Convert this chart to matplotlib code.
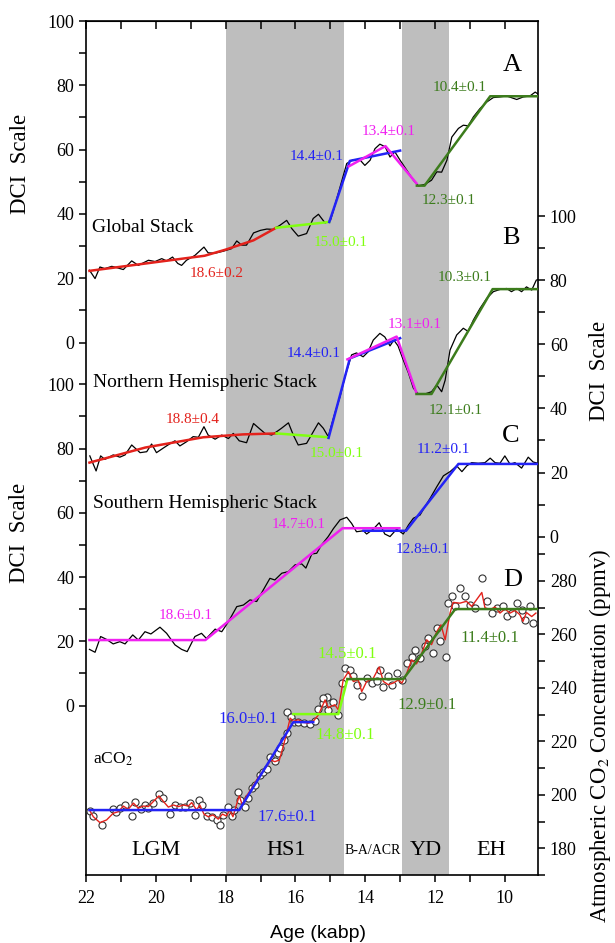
import matplotlib
matplotlib.use('Agg')
import matplotlib.pyplot as plt
from matplotlib.ticker import FixedLocator, NullFormatter

plt.rcParams['font.family'] = ['Liberation Serif', 'DejaVu Serif']
plt.rcParams['mathtext.fontset'] = 'stix'

# ---- data ------------------------------------------------------------------
# A: global stack
age_a = [21.9, 21.74, 21.6, 21.46, 21.26, 21.15, 20.93, 20.69, 20.5, 20.21, 20.02,
         19.83, 19.69, 19.52, 19.37, 19.26, 19.12, 18.88, 18.62, 18.5, 18.3, 18.07,
         17.83, 17.68, 17.54, 17.4, 17.2, 17.0, 16.82, 16.63, 16.44, 16.25, 16.1,
         15.92, 15.68, 15.49, 15.34, 15.15, 15.0, 14.91, 14.72, 14.53, 14.34, 14.15,
         14.01, 13.86, 13.72, 13.58, 13.43, 13.29, 13.15, 13.0, 12.81, 12.62, 12.48,
         12.29, 12.1, 11.95, 11.81, 11.66, 11.52, 11.33, 11.19, 11.05, 10.9, 10.71,
         10.52, 10.33, 10.14, 9.95, 9.82, 9.66, 9.47, 9.28, 9.13, 9.05]
dci_a = [22.5, 19.9, 23.5, 23.0, 23.7, 23.4, 22.7, 25.4, 24.0, 25.6, 25.2,
         26.1, 25.4, 26.6, 24.6, 24.0, 25.6, 27.1, 29.7, 27.9, 27.8, 28.4,
         29.2, 31.6, 30.3, 30.3, 34.1, 34.9, 35.3, 35.2, 36.5, 38.0, 35.4,
         33.1, 33.9, 38.6, 39.9, 37.2, 37.9, 41.1, 48.4, 55.7, 56.9, 56.8,
         55.1, 56.7, 60.3, 61.7, 60.9, 57.7, 59.3, 56.7, 53.6, 50.5, 48.7,
         49.2, 50.5, 53.1, 53.0, 56.7, 63.9, 66.6, 67.6, 67.4, 70.2, 72.8,
         74.8, 76.2, 76.4, 76.7, 76.2, 75.6, 76.4, 76.7, 77.9, 77.3]

# B: northern hemispheric stack
age_b = [21.89, 21.71, 21.58, 21.46, 21.22, 21.03, 20.88, 20.69, 20.45, 20.26, 20.12,
         19.98, 19.79, 19.65, 19.45, 19.31, 19.12, 18.93, 18.78, 18.62, 18.5, 18.3,
         18.11, 17.92, 17.78, 17.61, 17.4, 17.2, 17.01, 16.87, 16.68, 16.49, 16.4,
         16.2, 16.06, 15.92, 15.68, 15.49, 15.34, 15.2, 15.06, 14.87, 14.72, 14.58,
         14.39, 14.25, 14.06, 13.92, 13.77, 13.58, 13.44, 13.29, 13.18, 13.06, 12.91,
         12.76, 12.62, 12.48, 12.29, 12.1, 11.95, 11.81, 11.71, 11.57, 11.38, 11.19,
         11.05, 10.9, 10.71, 10.52, 10.33, 10.14, 9.95, 9.81, 9.66, 9.52, 9.38,
         9.23, 9.1, 9.05]
dci_b = [25.2, 20.5, 25.2, 24.1, 25.5, 24.8, 25.5, 28.6, 26.2, 26.5, 28.9,
         26.2, 27.6, 28.6, 29.9, 28.3, 29.6, 31.2, 31.0, 34.3, 31.7, 30.4,
         31.7, 30.6, 32.2, 29.9, 29.3, 35.3, 33.5, 32.2, 31.7, 33.1, 33.8,
         35.5, 31.7, 28.6, 29.1, 32.7, 35.5, 33.8, 31.2, 38.5, 43.7, 49.9,
         56.7, 57.3, 56.1, 57.6, 61.3, 63.4, 62.3, 59.5, 61.3, 59.5, 55.1,
         51.0, 46.3, 44.5, 44.5, 45.2, 47.3, 45.2, 48.8, 58.2, 62.9, 65.0,
         64.0, 67.6, 71.2, 74.3, 76.4, 77.1, 77.4, 76.4, 77.4, 76.4, 77.9,
         76.9, 80.0, 80.2]

# C: southern hemispheric stack
age_c = [21.9, 21.74, 21.58, 21.41, 21.22, 21.03, 20.88, 20.66, 20.5, 20.31, 20.14,
         19.88, 19.69, 19.45, 19.26, 19.1, 18.88, 18.69, 18.55, 18.3, 18.11, 17.92,
         17.68, 17.49, 17.3, 17.11, 16.92, 16.73, 16.59, 16.39, 16.2, 16.01, 15.82,
         15.7, 15.53, 15.39, 15.25, 15.06, 14.91, 14.72, 14.53, 14.39, 14.25, 14.05,
         13.96, 13.77, 13.6, 13.44, 13.29, 13.1, 12.91, 12.76, 12.62, 12.43, 12.29,
         12.14, 11.95, 11.76, 11.57, 11.38, 11.23, 11.09, 10.95, 10.76, 10.57, 10.42,
         10.28, 10.14, 10.0, 9.85, 9.71, 9.52, 9.33, 9.19, 9.05]
dci_c = [17.5, 16.6, 21.5, 20.6, 19.2, 19.9, 19.2, 22.0, 20.4, 23.0, 22.3,
         24.4, 22.5, 18.9, 17.5, 16.8, 21.5, 22.5, 20.9, 23.8, 23.0, 26.1,
         30.8, 31.3, 32.9, 32.4, 36.0, 39.6, 39.1, 41.2, 41.7, 43.8, 44.1,
         42.8, 47.2, 47.4, 50.0, 52.6, 55.1, 57.8, 58.6, 56.7, 54.1, 54.4,
         53.4, 54.9, 56.9, 53.4, 52.6, 54.9, 53.4, 56.2, 58.3, 59.3, 61.9,
         64.5, 68.1, 71.5, 72.8, 74.6, 72.8, 74.6, 75.6, 75.4, 75.6, 77.0,
         75.6, 75.4, 77.7, 75.1, 75.6, 73.9, 77.3, 75.8, 75.4]

# D: atmospheric CO2, smoothed curve (red)
age_co2 = [21.9, 21.79, 21.6, 21.41, 21.22, 21.07, 20.93, 20.79, 20.64, 20.5, 20.36,
           20.21, 20.07, 19.91, 19.78, 19.64, 19.5, 19.35, 19.21, 19.07, 18.97, 18.83,
           18.74, 18.62, 18.5, 18.36, 18.21, 18.09, 17.98, 17.88, 17.79, 17.69, 17.61,
           17.52, 17.41, 17.25, 17.11, 16.97, 16.82, 16.7, 16.59, 16.46, 16.35, 16.25,
           16.15, 16.06, 15.92, 15.77, 15.63, 15.49, 15.34, 15.15, 15.06, 15.0, 14.87,
           14.77, 14.63, 14.48, 14.34, 14.2, 14.1, 13.96, 13.77, 13.6, 13.48, 13.34,
           13.2, 13.05, 12.95, 12.81, 12.67, 12.53, 12.38, 12.24, 12.1, 11.95, 11.83,
           11.71, 11.57, 11.48, 11.29, 11.1, 10.95, 10.81, 10.66, 10.57, 10.42, 10.28,
           10.14, 10.0, 9.85, 9.71, 9.57, 9.48, 9.38, 9.23, 9.11]
ppm_co2 = [194.3, 191.8, 189.6, 190.6, 193.1, 193.7, 195.8, 194.6, 196.9, 195.0, 195.8,
           195.6, 197.5, 199.6, 197.5, 195.4, 196.2, 195.6, 196.2, 195.8, 197.1, 194.3,
           196.2, 192.8, 191.8, 192.5, 190.9, 192.8, 192.1, 194.3, 191.8, 196.2, 199.6,
           196.2, 199.4, 202.5, 205.6, 208.1, 210.8, 213.0, 212.4, 213.0, 218.1, 223.1,
           228.7, 227.5, 228.1, 227.1, 226.8, 227.5, 229.9, 235.5, 232.5, 233.0, 233.7,
           231.8, 243.0, 246.1, 242.4, 243.0, 238.6, 242.4, 243.6, 247.8, 242.4, 241.2,
           241.8, 243.0, 241.8, 245.5, 250.5, 249.0, 253.0, 258.0, 256.2, 261.1, 263.6,
           258.0, 268.0, 272.0, 271.7, 272.4, 270.5, 273.0, 275.7, 270.0, 269.3, 270.3,
           268.0, 269.5, 268.0, 269.0, 267.4, 264.9, 268.2, 266.7, 268.0]

# D: individual CO2 measurements (open circles)
age_pts = [21.89, 21.79, 21.55, 21.22, 21.14, 21.03, 20.88, 20.69, 20.6, 20.42, 20.31,
           20.21, 20.07, 19.9, 19.78, 19.59, 19.45, 19.31, 19.16, 19.02, 18.88, 18.75,
           18.69, 18.54, 18.4, 18.26, 18.16, 18.07, 17.92, 17.83, 17.76, 17.64, 17.59,
           17.44, 17.35, 17.25, 17.16, 17.01, 16.94, 16.82, 16.73, 16.59, 16.49, 16.44,
           16.33, 16.25, 16.23, 16.14, 16.04, 15.92, 15.75, 15.58, 15.44, 15.34, 15.22,
           15.09, 15.2, 15.06, 14.91, 14.77, 14.67, 14.58, 14.44, 14.34, 14.24, 14.1,
           13.96, 13.8, 13.67, 13.58, 13.48, 13.34, 13.24, 13.1, 12.95, 12.81, 12.67,
           12.57, 12.43, 12.29, 12.19, 12.05, 11.95, 11.86, 11.69, 11.62, 11.52, 11.43,
           11.28, 11.14, 10.99, 10.85, 10.66, 10.52, 10.38, 10.23, 10.06, 9.95, 9.8,
           9.66, 9.52, 9.42, 9.28, 9.2]
ppm_pts = [194.1, 192.1, 188.7, 194.6, 193.4, 195.0, 196.2, 191.9, 197.5, 194.6, 196.2,
           195.0, 196.9, 200.4, 198.7, 192.9, 196.2, 195.6, 195.4, 196.9, 192.5, 198.1,
           196.2, 192.1, 191.6, 190.6, 188.7, 192.5, 195.6, 191.9, 194.4, 201.2, 198.1,
           195.6, 198.7, 202.5, 203.7, 207.5, 208.7, 209.6, 214.3, 212.5, 215.6, 217.4,
           220.6, 223.3, 230.8, 229.1, 227.4, 227.4, 226.8, 226.6, 227.8, 232.0, 234.3,
           236.5, 236.2, 231.8, 234.9, 229.9, 241.8, 247.4, 246.8, 244.3, 241.2, 237.0,
           243.6, 241.8, 242.4, 246.8, 240.5, 244.3, 241.2, 245.5, 243.0, 249.3, 251.5,
           254.3, 251.1, 255.5, 258.6, 253.0, 262.4, 257.4, 251.5, 271.7, 274.2, 270.5,
           277.4, 274.2, 271.1, 269.9, 281.1, 272.4, 268.0, 269.9, 270.8, 266.8, 268.0,
           271.7, 269.2, 265.5, 270.5, 264.3]

# piecewise regression lines (breakpoints)
fit_a = {
    'red':    ([21.9, 18.6, 18.0, 17.2, 16.55], [22.3, 27.0, 28.9, 31.8, 35.7]),
    'lgreen': ([16.55, 15.03], [35.7, 37.5]),
    'blue':   ([15.03, 14.44, 13.0], [37.5, 56.5, 59.7]),
    'mag':    ([14.47, 13.42, 12.53], [54.8, 61.1, 49.5]),
    'dgreen': ([12.52, 12.3, 10.42, 9.05], [48.8, 48.8, 76.6, 76.6]),
}
fit_b = {
    'red':    ([21.9, 20.3, 18.64, 17.5, 16.54], [23.1, 27.8, 31.0, 31.9, 32.2]),
    'lgreen': ([16.54, 15.05], [32.2, 31.0]),
    'blue':   ([15.05, 14.44, 13.0], [30.8, 55.6, 61.9]),
    'mag':    ([14.51, 13.1, 12.53], [55.3, 62.4, 44.7]),
    'dgreen': ([12.53, 12.1, 10.35, 9.05], [44.5, 44.5, 77.2, 77.2]),
}
fit_c = {
    'mag':  ([21.9, 18.58, 14.65, 13.02], [20.4, 20.4, 55.2, 55.2]),
    'blue': ([14.05, 12.83, 11.33, 9.05], [54.4, 54.4, 75.2, 75.2]),
}
fit_d = {
    'blue':   ([21.9, 17.61, 16.06, 15.49], [194.3, 194.3, 227.2, 227.2]),
    'lgreen': ([16.06, 14.77, 14.51], [230.2, 230.2, 243.3]),
    'dgreen': ([14.51, 12.91, 11.42, 9.08], [243.3, 243.3, 269.5, 269.5]),
}

# breakpoint labels: (text, age, value, colour key)
labels_a = [('18.6±0.2', 18.25, 21.4, 'red'), ('15.0±0.1', 14.69, 31.2, 'lgreen'),
            ('14.4±0.1', 15.39, 58.0, 'blue'), ('13.4±0.1', 13.34, 65.5, 'mag'),
            ('12.3±0.1', 11.62, 44.2, 'dgreen'), ('10.4±0.1', 11.29, 79.3, 'dgreen')]
labels_b = [('18.8±0.4', 18.95, 36.6, 'red'), ('15.0±0.1', 14.82, 25.8, 'lgreen'),
            ('14.4±0.1', 15.48, 57.2, 'blue'), ('13.1±0.1', 12.59, 66.3, 'mag'),
            ('12.1±0.1', 11.4, 39.5, 'dgreen'), ('10.3±0.1', 11.15, 80.9, 'dgreen')]
labels_c = [('18.6±0.1', 19.13, 27.9, 'mag'), ('14.7±0.1', 15.92, 56.2, 'mag'),
            ('12.8±0.1', 12.35, 48.7, 'blue'), ('11.2±0.1', 11.76, 79.6, 'blue')]
labels_d = [('16.0±0.1', 17.35, 228.3, 'blue'), ('17.6±0.1', 16.25, 191.8, 'blue'),
            ('14.8±0.1', 14.58, 222.4, 'lgreen'), ('14.5±0.1', 14.53, 252.8, 'lgreen'),
            ('12.9±0.1', 12.24, 233.7, 'dgreen'), ('11.4±0.1', 10.44, 258.6, 'dgreen')]

periods = ['LGM', 'HS1', 'B-A/ACR', 'YD', 'EH']
period_mid = [20.0, 16.27, 13.78, 12.27, 10.4]
shaded = [(18.0, 14.6), (12.95, 11.6)]

colors = {'red': '#e3221c', 'lgreen': '#80ff10', 'blue': '#2323f5',
          'mag': '#f020f0', 'dgreen': '#3c7c1c'}

# ---- figure -----------------------------------------------------------------
fig = plt.figure(figsize=(6.15, 9.43), dpi=100)
ax = fig.add_axes([0.1398, 0.0721, 0.7350, 0.9056])
ax.set_xlim(22, 9.05)
ax.set_ylim(-165.6, 100)

axB = ax.twinx()
axB.set_ylim(-105.5, 160.8)
axC = ax.twinx()
axC.set_ylim(-52.7, 213.0)
axC.yaxis.tick_left()
axD = ax.twinx()
axD.set_ylim(170.0, 489.5)

for a in (axB, axC, axD):
    for s in a.spines.values():
        s.set_visible(False)
for s in ax.spines.values():
    s.set_linewidth(1.2)

for lo, hi in shaded:
    ax.axvspan(lo, hi, color='#bebebe', lw=0, zorder=0)

# black DCI curves
ax.plot(age_a, dci_a, color='black', lw=0.9, zorder=2)
axB.plot(age_b, dci_b, color='black', lw=0.9, zorder=2)
axC.plot(age_c, dci_c, color='black', lw=0.9, zorder=2)

# CO2 points and smoothed curve
axD.scatter(age_pts, ppm_pts, s=26, facecolor='white', edgecolor='#333333',
            linewidth=0.8, zorder=2)
axD.plot(age_co2, ppm_co2, color=colors['red'], lw=1.0, zorder=3)

for a, fits in ((ax, fit_a), (axB, fit_b), (axC, fit_c), (axD, fit_d)):
    for key, (xs, ys) in fits.items():
        a.plot(xs, ys, color=colors[key], lw=1.8, zorder=4)

for a, labs, fs in ((ax, labels_a, 11), (axB, labels_b, 11), (axC, labels_c, 11), (axD, labels_d, 12)):
    for txt, x, y, key in labs:
        a.text(x, y, txt, color=colors[key], fontsize=fs, ha='center', va='center', zorder=5)

ax.text(21.83, 35.9, 'Global Stack', fontsize=14, va='center')
axB.text(21.81, 48.1, 'Northern Hemispheric Stack', fontsize=14, va='center')
axC.text(21.81, 63.0, 'Southern Hemispheric Stack', fontsize=14, va='center')
axD.text(21.81, 213.3, 'aCO$_2$', fontsize=12.5, va='center')

ax.text(9.8, 86.2, 'A', fontsize=19, ha='center', va='center')
axB.text(9.82, 93.0, 'B', fontsize=19, ha='center', va='center')
axC.text(9.82, 83.9, 'C', fontsize=19, ha='center', va='center')
axD.text(9.78, 280.5, 'D', fontsize=19, ha='center', va='center')

for name, mid in zip(periods, period_mid):
    fs = 10 if name == 'B-A/ACR' else 16
    ax.text(mid, 0.029, name, fontsize=fs, ha='center', va='center',
            transform=ax.get_xaxis_transform())

# ---- ticks ------------------------------------------------------------------
tick_kw = dict(direction='out', length=5, width=1.1, labelsize=13)
ax.xaxis.set_major_locator(FixedLocator([22, 20, 18, 16, 14, 12, 10]))
ax.xaxis.set_minor_locator(FixedLocator([21, 19, 17, 15, 13, 11, 9]))
ax.tick_params(axis='x', which='both', pad=6, **tick_kw)

top = ax.secondary_xaxis('top')
top.xaxis.set_major_locator(FixedLocator(list(range(10, 23))))
top.xaxis.set_major_formatter(NullFormatter())
top.tick_params(direction='in', length=6, width=1.1)

ax.yaxis.set_major_locator(FixedLocator([0, 20, 40, 60, 80, 100]))
ax.yaxis.set_minor_locator(FixedLocator([10, 30, 50, 70, 90]))
axC.yaxis.set_major_locator(FixedLocator([0, 20, 40, 60, 80, 100]))
axC.yaxis.set_minor_locator(FixedLocator([10, 30, 50, 70, 90]))
axB.yaxis.set_major_locator(FixedLocator([0, 20, 40, 60, 80, 100]))
axB.yaxis.set_minor_locator(FixedLocator([10, 30, 50, 70, 90]))
axD.yaxis.set_major_locator(FixedLocator([180, 200, 220, 240, 260, 280]))
axD.yaxis.set_minor_locator(FixedLocator([170, 190, 210, 230, 250, 270, 290]))
for a in (ax, axB, axC, axD):
    a.tick_params(axis='y', which='both', **tick_kw)

# ---- axis titles --------------------------------------------------------------
fig.text(0.517, 0.0106, 'Age (kabp)', fontsize=14, family='Liberation Sans',
         ha='center', va='center')
fig.text(0.0333, 0.826, 'DCI  Scale', fontsize=16.5, rotation=90, ha='center', va='center')
fig.text(0.0325, 0.4353, 'DCI  Scale', fontsize=16.5, rotation=90, ha='center', va='center')
fig.text(0.9756, 0.6066, 'DCI  Scale', fontsize=16.5, rotation=90, ha='center', va='center')
fig.text(0.9756, 0.2195, 'Atmospheric CO$_2$ Concentration (ppmv)', fontsize=16.5,
         rotation=90, ha='center', va='center')

fig.savefig('out.png', dpi=100)
